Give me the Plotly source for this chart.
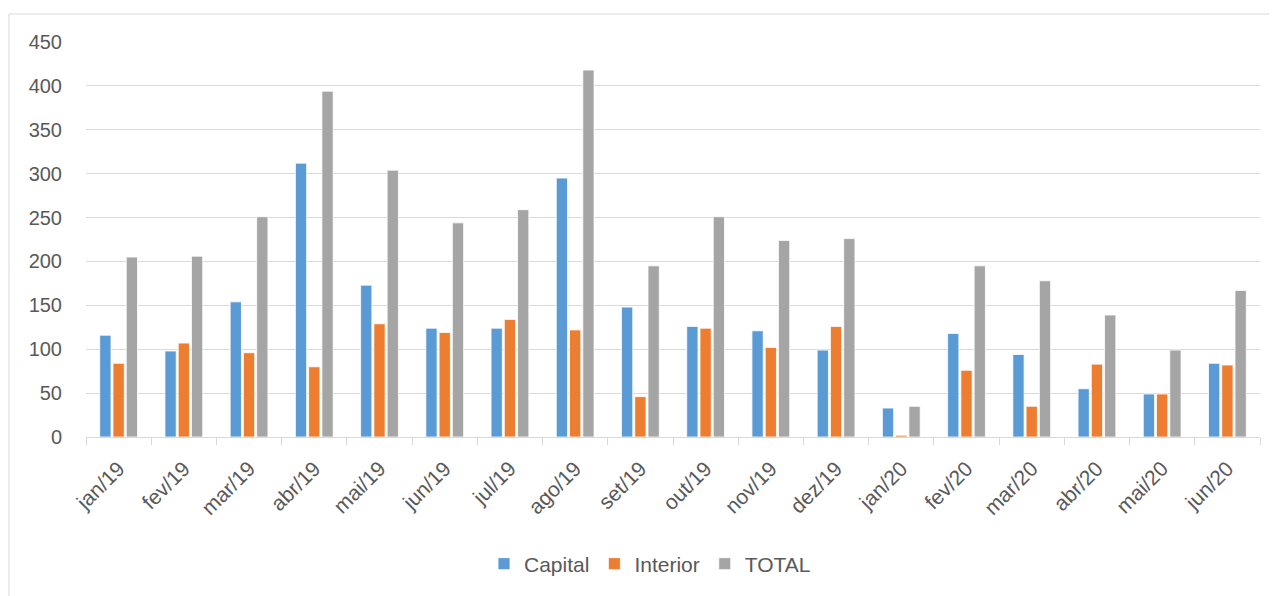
import plotly.graph_objects as go

months = ["jan/19", "fev/19", "mar/19", "abr/19", "mai/19", "jun/19", "jul/19", "ago/19", "set/19",
          "out/19", "nov/19", "dez/19", "jan/20", "fev/20", "mar/20", "abr/20", "mai/20", "jun/20"]
capital = [116, 98, 154, 312, 173, 124, 124, 295, 148, 126, 121, 99, 33, 118, 94, 55, 49, 84]
interior = [84, 107, 96, 80, 129, 119, 134, 122, 46, 124, 102, 126, 2, 76, 35, 83, 49, 82]
total = [205, 206, 251, 394, 304, 244, 259, 418, 195, 251, 224, 226, 35, 195, 178, 139, 99, 167]
y_ticks = [0, 50, 100, 150, 200, 250, 300, 350, 400, 450]

series = [("Capital", capital, "#5B9BD5"), ("Interior", interior, "#ED7D31"), ("TOTAL", total, "#A5A5A5")]

fig = go.Figure()
for name, vals, color in series:
    fig.add_trace(go.Bar(x=months, y=vals, name=name,
                         marker=dict(color=color, line=dict(color="white", width=0.8))))

W, H = 1277, 596
OFF = 8  # page body margin
# target plot area in page pixels: x 86..1260, y 42..437
L, T = 86 - OFF, 42 - OFF
R, B = W - (1260 - OFF), H - (437 - OFF)
pw, ph = W - L - R, H - T - B

fig.update_layout(
    width=W, height=H,
    margin=dict(l=L, r=R, t=T, b=B),
    plot_bgcolor="white", paper_bgcolor="white",
    font=dict(family="Liberation Sans, Arial, sans-serif", size=20, color="#595959"),
    barmode="group", bargap=0.39, bargroupgap=0.15,
    showlegend=True,
    legend=dict(orientation="h", x=0.5 - 23 / pw, xanchor="center",
                y=(437 - 564) / ph, yanchor="middle",
                font=dict(size=21, color="#595959"), traceorder="normal"),
    xaxis=dict(showline=True, linecolor="#d9d9d9", linewidth=1, ticks="outside",
               tickson="boundaries", ticklen=7, tickcolor="#d9d9d9", tickangle=-45,
               showgrid=False, tickfont=dict(size=21, color="#595959"), ticklabelstandoff=10),
    yaxis=dict(range=[0, 450], tickvals=y_ticks, showgrid=True, gridcolor="#d9d9d9",
               gridwidth=1, zeroline=False, showline=False, ticks="",
               tickfont=dict(size=20, color="#595959"), ticklabelstandoff=23),
    shapes=[dict(type="rect", xref="paper", yref="paper",
                 x0=(9 - 86) / pw, x1=1.2, y0=-1, y1=(437 - 14) / ph,
                 line=dict(color="#d9d9d9", width=1), fillcolor="rgba(0,0,0,0)", layer="below")],
)

fig.write_html("out.html")
